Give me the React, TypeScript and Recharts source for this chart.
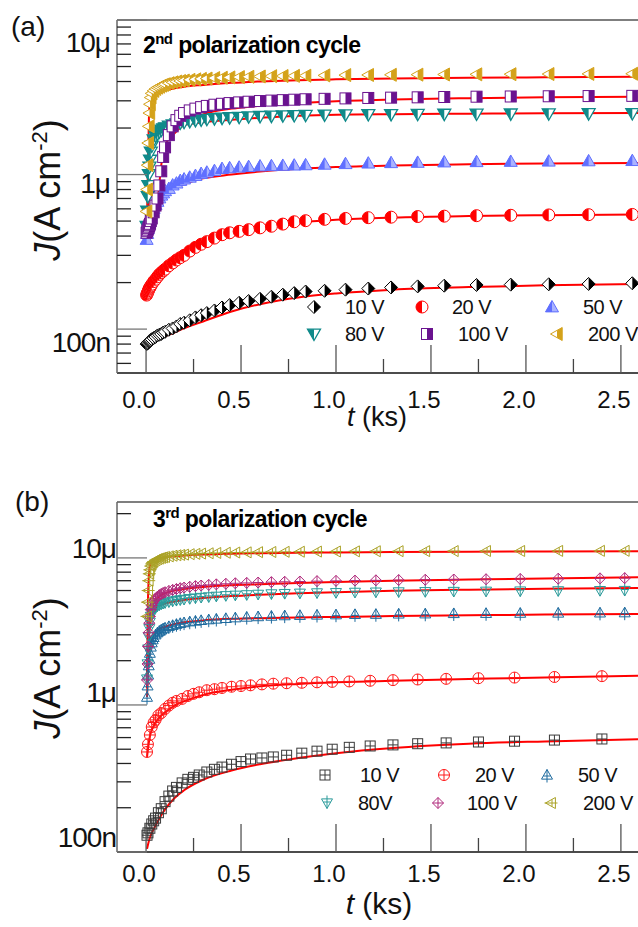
import React from 'react';
import { ComposedChart, Scatter, Line, XAxis, YAxis, ReferenceLine } from 'recharts';

const FONT = '"Liberation Sans", Arial, Helvetica, sans-serif';

// ---------- panel (a): 2nd polarization cycle, J in nA/cm2 ----------
const tA = [0.003, 0.006, 0.009, 0.012, 0.015, 0.018, 0.021, 0.025, 0.03, 0.04,
  0.05, 0.06, 0.07, 0.08, 0.09, 0.1, 0.12, 0.14, 0.16, 0.18,
  0.2, 0.23, 0.26, 0.29, 0.32, 0.36, 0.4, 0.44, 0.49, 0.54,
  0.6, 0.66, 0.72, 0.78, 0.84, 0.94, 1.05, 1.17, 1.29, 1.43,
  1.57, 1.74, 1.92, 2.12, 2.33, 2.56];

const a10 = [80, 80.5, 81, 82, 83, 83.5, 84, 85, 86, 87.5,
  89, 91, 92, 93, 95, 96, 99, 101, 104, 108,
  110, 114, 119, 123, 127, 132, 138, 143, 148, 152,
  157, 162, 167, 171, 175, 177, 180, 183, 186, 189,
  191, 193, 194, 195, 196, 198];
const a20 = [166, 170, 173, 177, 181, 184, 187, 190, 195, 203,
  210, 218, 226, 232, 238, 244, 257, 268, 280, 290,
  300, 320, 338, 354, 368, 388, 408, 420, 429, 440,
  452, 463, 478, 495, 503, 513, 520, 526, 530, 535,
  538, 542, 545, 548, 550, 552];
const a50 = [380, 415, 445, 465, 488, 505, 520, 545, 565, 603,
  640, 670, 705, 735, 760, 785, 812, 855, 880, 915,
  935, 960, 985, 1015, 1035, 1060, 1093, 1105, 1115, 1125,
  1135, 1140, 1145, 1150, 1155, 1165, 1175, 1185, 1192, 1198,
  1205, 1210, 1215, 1220, 1225, 1230];
const a80 = [462, 580, 720, 850, 1000, 1120, 1240, 1400, 1530, 1680,
  1770, 1830, 1890, 1940, 1980, 2010, 2060, 2100, 2130, 2160,
  2180, 2210, 2240, 2260, 2280, 2300, 2320, 2335, 2350, 2365,
  2380, 2390, 2400, 2410, 2420, 2430, 2440, 2445, 2450, 2455,
  2460, 2465, 2470, 2475, 2480, 2485];
const a100 = [420, 430, 440, 450, 460, 470, 480, 500, 520, 570,
  630, 700, 850, 1050, 1300, 1500, 1800, 2050, 2250, 2400,
  2500, 2600, 2670, 2730, 2780, 2830, 2870, 2900, 2930, 2960,
  2990, 3010, 3030, 3050, 3070, 3090, 3110, 3130, 3145, 3160,
  3175, 3190, 3200, 3210, 3220, 3230];
const a200 = [577, 800, 1150, 1600, 2050, 2500, 2850, 3150, 3350, 3480,
  3580, 3650, 3700, 3760, 3800, 3840, 3900, 3950, 4000, 4030,
  4060, 4100, 4130, 4160, 4180, 4210, 4230, 4250, 4270, 4290,
  4310, 4330, 4340, 4350, 4360, 4380, 4400, 4410, 4420, 4430,
  4440, 4450, 4460, 4470, 4480, 4490];

// fitted curves (red), both panels share the time grid
const tFit = [0.005, 0.01, 0.015, 0.02, 0.03, 0.04, 0.06, 0.08, 0.1, 0.15,
  0.2, 0.3, 0.45, 0.6, 0.8, 1.0, 1.3, 1.7, 2.1, 2.6];

const fa10 = [79, 80, 80.5, 81, 82, 83.5, 86, 88, 90, 95, 101, 112, 130, 145, 160, 170, 180, 187, 192, 196];
const fa20 = [166, 172, 177, 182, 190, 198, 212, 226, 240, 270, 300, 355, 420, 455, 490, 510, 527, 539, 546, 552];
const fa50 = [380, 425, 462, 497, 540, 575, 630, 690, 743, 815, 865, 945, 1000, 1045, 1090, 1120, 1145, 1165, 1180, 1190];
const fa80 = [470, 560, 720, 950, 1450, 1720, 1880, 1950, 1990, 2050, 2100, 2180, 2260, 2330, 2400, 2440, 2460, 2475, 2490, 2500];
const fa100 = [400, 405, 410, 415, 430, 460, 650, 1150, 1550, 1850, 2100, 2450, 2670, 2790, 2900, 2980, 3060, 3120, 3160, 3190];
const fa200 = [520, 1200, 2300, 2950, 3150, 3250, 3350, 3430, 3500, 3610, 3700, 3800, 3920, 4000, 4080, 4130, 4180, 4230, 4260, 4290];

// ---------- panel (b): 3rd polarization cycle ----------
const tB1 = [0.005, 0.01, 0.02, 0.03, 0.04, 0.05, 0.065, 0.08, 0.1, 0.12,
  0.14, 0.16, 0.19, 0.22, 0.25, 0.28, 0.32, 0.36, 0.4, 0.45,
  0.5, 0.55, 0.61, 0.67, 0.74, 0.82, 0.9, 0.98, 1.07, 1.18,
  1.3, 1.43, 1.58, 1.75, 1.94, 2.15, 2.4];
const b10 = [130, 135, 145, 155, 163, 170, 185, 197, 220, 240,
  260, 275, 295, 312, 322, 334, 350, 365, 378, 395,
  412, 429, 436, 443, 455, 470, 485, 500, 515, 526,
  535, 545, 552, 560, 567, 577, 587];
const b20 = [479, 540, 625, 708, 760, 791, 850, 882, 940, 990,
  1035, 1065, 1100, 1150, 1190, 1220, 1260, 1280, 1305, 1330,
  1345, 1360, 1380, 1395, 1405, 1415, 1425, 1435, 1445, 1460,
  1475, 1490, 1505, 1520, 1535, 1550, 1570];

const tB2 = [0.005, 0.008, 0.011, 0.014, 0.017, 0.02, 0.025, 0.03, 0.035, 0.04,
  0.05, 0.06, 0.07, 0.08, 0.09, 0.1, 0.12, 0.14, 0.16, 0.18,
  0.2, 0.23, 0.26, 0.29, 0.33, 0.37, 0.42, 0.47, 0.53, 0.59,
  0.66, 0.73, 0.81, 0.9, 1.0, 1.1, 1.21, 1.33, 1.47, 1.62,
  1.79, 1.97, 2.17, 2.39, 2.52];
const b50 = [1130, 1350, 1600, 1850, 2050, 2250, 2480, 2650, 2780, 2880,
  3000, 3100, 3180, 3240, 3300, 3340, 3420, 3480, 3540, 3590,
  3630, 3680, 3720, 3760, 3800, 3840, 3880, 3920, 3960, 3990,
  4020, 4050, 4070, 4090, 4110, 4130, 4140, 4160, 4170, 4190,
  4200, 4210, 4220, 4230, 4240];
const b80 = [1500, 1900, 2400, 2900, 3300, 3650, 4000, 4230, 4380, 4480,
  4600, 4700, 4780, 4850, 4900, 4950, 5020, 5080, 5130, 5180,
  5220, 5280, 5330, 5380, 5430, 5480, 5530, 5570, 5610, 5650,
  5690, 5720, 5750, 5780, 5800, 5830, 5850, 5870, 5890, 5910,
  5930, 5950, 5970, 5990, 6000];
const b100 = [1480, 1900, 2500, 3100, 3600, 4000, 4450, 4750, 4950, 5100,
  5300, 5450, 5580, 5680, 5770, 5840, 5960, 6060, 6140, 6220,
  6280, 6360, 6430, 6490, 6550, 6610, 6670, 6720, 6760, 6800,
  6840, 6880, 6910, 6950, 6980, 7010, 7040, 7070, 7100, 7130,
  7160, 7190, 7220, 7260, 7290];
const b200 = [4000, 5000, 6000, 7000, 7800, 8300, 8800, 9100, 9300, 9450,
  9650, 9800, 9900, 10000, 10080, 10150, 10250, 10350, 10420, 10480,
  10530, 10600, 10650, 10700, 10750, 10800, 10840, 10880, 10910, 10940,
  10970, 11000, 11020, 11040, 11060, 11080, 11100, 11110, 11120, 11130,
  11140, 11150, 11160, 11170, 11180];

const fb10 = [105, 112, 119, 125, 135, 143, 160, 178, 195, 233, 263, 310, 358, 395, 435, 470, 510, 545, 565, 585];
const fb20 = [443, 500, 560, 610, 676, 720, 790, 850, 890, 990, 1060, 1170, 1270, 1340, 1390, 1425, 1460, 1500, 1540, 1580];
const fb50 = [1130, 1600, 2050, 2400, 2800, 3000, 3220, 3330, 3400, 3550, 3650, 3760, 3850, 3890, 3930, 3970, 4020, 4070, 4120, 4160];
const fb80 = [1400, 2200, 2850, 3400, 4100, 4400, 4650, 4800, 4900, 5050, 5180, 5330, 5500, 5620, 5750, 5850, 5970, 6080, 6170, 6250];
const fb100 = [1300, 2300, 3100, 3800, 4600, 4950, 5350, 5600, 5750, 6000, 6150, 6350, 6520, 6620, 6750, 6850, 6980, 7120, 7250, 7400];
const fb200 = [1500, 5000, 7600, 8800, 9400, 9650, 9850, 10000, 10100, 10280, 10400, 10550, 10680, 10760, 10830, 10900, 10960, 11020, 11060, 11100];

const voltages = ['10 V', '20 V', '50 V', '80 V', '100 V', '200 V'];
const voltagesB = ['10 V', '20 V', '50 V', '80V', '100 V', '200 V'];

const xTicks = [0, 0.25, 0.5, 0.75, 1, 1.25, 1.5, 1.75, 2, 2.25, 2.5];
const X_DOMAIN: [number, number] = [-0.153, 2.59];

const minors = [2, 3, 4, 5, 6, 7, 8, 9];
const yTicksA = [6e-8, 7e-8, 8e-8, 9e-8, 1e-7, ...minors.map((m) => m * 1e-7), 1e-6, ...minors.map((m) => m * 1e-6), 1e-5];
const yTicksB = [1e-7, ...minors.map((m) => m * 1e-7), 1e-6, ...minors.map((m) => m * 1e-6), 1e-5, 2e-5];
const yLabels: Record<string, string> = { '-7': '100n', '-6': '1μ', '-5': '10μ' };
// label baseline offsets relative to the tick, as placed in the original figure
const yDyA: Record<string, number> = { '-7': 23, '-6': 18, '-5': 32 };
const yDyB: Record<string, number> = { '-7': -5, '-6': -3, '-5': 0 };

const rows = (ts: number[], js: number[]) => ts.map((t, i) => ({ t, j: js[i] * 1e-9 }));

// ---------- markers ----------
type Mk = (cx: number, cy: number) => React.ReactElement;

const halfDiamond = (c: string, R: number): Mk => (cx, cy) => (
  <g>
    <path d={`M${cx},${cy - R}L${cx + R},${cy}L${cx},${cy + R}L${cx - R},${cy}Z`} fill="#fff" stroke={c} strokeWidth={1} />
    <path d={`M${cx},${cy - R}L${cx + R},${cy}L${cx},${cy + R}Z`} fill={c} />
  </g>
);
const halfCircle = (c: string, r: number): Mk => (cx, cy) => (
  <g>
    <circle cx={cx} cy={cy} r={r} fill="#fff" stroke={c} strokeWidth={1} />
    <path d={`M${cx},${cy - r}A${r},${r} 0 0 0 ${cx},${cy + r}Z`} fill={c} />
  </g>
);
const halfTriUp = (c: string, light: string, R: number): Mk => (cx, cy) => (
  <g>
    <path d={`M${cx},${cy - R}L${cx + R},${cy + R * 0.75}L${cx - R},${cy + R * 0.75}Z`} fill={light} stroke={c} strokeWidth={1} />
    <path d={`M${cx},${cy - R}L${cx},${cy + R * 0.75}L${cx - R},${cy + R * 0.75}Z`} fill={c} />
  </g>
);
const halfTriDown = (c: string, R: number): Mk => (cx, cy) => (
  <g>
    <path d={`M${cx - R},${cy - R * 0.75}L${cx + R},${cy - R * 0.75}L${cx},${cy + R}Z`} fill="#fff" stroke={c} strokeWidth={1.3} />
    <path d={`M${cx - R},${cy - R * 0.75}L${cx},${cy - R * 0.75}L${cx},${cy + R}Z`} fill={c} />
  </g>
);
const halfSquare = (c: string, h: number): Mk => (cx, cy) => (
  <g>
    <rect x={cx - h} y={cy - h} width={2 * h} height={2 * h} fill="#fff" stroke={c} strokeWidth={1} />
    <rect x={cx} y={cy - h} width={h} height={2 * h} fill={c} />
  </g>
);
const halfTriLeft = (c: string, R: number): Mk => (cx, cy) => (
  <g>
    <path d={`M${cx - R},${cy}L${cx + R * 0.8},${cy - R}L${cx + R * 0.8},${cy + R}Z`} fill="#fff" stroke={c} strokeWidth={1} />
    <path d={`M${cx},${cy - R * 0.556}L${cx + R * 0.8},${cy - R}L${cx + R * 0.8},${cy + R}L${cx},${cy + R * 0.556}Z`} fill={c} />
  </g>
);

const R = 5.5;
const sqCross = (c: string): Mk => (cx, cy) => (
  <g fill="none" stroke={c} strokeWidth={1}>
    <rect x={cx - 5} y={cy - 5} width={10} height={10} />
    <path d={`M${cx - 5},${cy}H${cx + 5}M${cx},${cy - 5}V${cy + 5}`} />
  </g>
);
const circCross = (c: string): Mk => (cx, cy) => (
  <g fill="none" stroke={c} strokeWidth={1}>
    <circle cx={cx} cy={cy} r={5.5} />
    <path d={`M${cx - 5.5},${cy}H${cx + 5.5}M${cx},${cy - 5.5}V${cy + 5.5}`} />
  </g>
);
const triUpCross = (c: string): Mk => (cx, cy) => (
  <g fill="none" stroke={c} strokeWidth={1}>
    <path d={`M${cx},${cy - R}L${cx + R},${cy + R * 0.75}L${cx - R},${cy + R * 0.75}Z`} />
    <path d={`M${cx},${cy - R}V${cy + R + 2}M${cx - 3.5},${cy + 1}H${cx + 3.5}`} />
  </g>
);
const triDownCross = (c: string): Mk => (cx, cy) => (
  <g fill="none" stroke={c} strokeWidth={1}>
    <path d={`M${cx - R},${cy - R * 0.75}L${cx + R},${cy - R * 0.75}L${cx},${cy + R}Z`} />
    <path d={`M${cx},${cy - R - 2}V${cy + R}M${cx - 3.5},${cy - 1}H${cx + 3.5}`} />
  </g>
);
const diaCross = (c: string): Mk => (cx, cy) => (
  <g fill="none" stroke={c} strokeWidth={1}>
    <path d={`M${cx},${cy - R}L${cx + R},${cy}L${cx},${cy + R}L${cx - R},${cy}Z`} />
    <path d={`M${cx - R},${cy}H${cx + R}M${cx},${cy - R}V${cy + R}`} />
  </g>
);
const triLeftCross = (c: string): Mk => (cx, cy) => (
  <g fill="none" stroke={c} strokeWidth={1}>
    <path d={`M${cx - R},${cy}L${cx + R * 0.8},${cy - R}L${cx + R * 0.8},${cy + R}Z`} />
    <path d={`M${cx - R - 1},${cy}H${cx + R + 1}M${cx + 1},${cy - 3.5}V${cy + 3.5}`} />
  </g>
);

const markersA: Mk[] = [
  halfDiamond('#000000', 6.5),
  halfCircle('#ff0000', 6),
  halfTriUp('#5f6fff', '#aab3ff', 6.5),
  halfTriDown('#0f8a8a', 6.5),
  halfSquare('#6a128f', 5.5),
  halfTriLeft('#d4a21a', 6.5),
];
const markersB: Mk[] = [
  sqCross('#3a3a3a'),
  circCross('#ff1a1a'),
  triUpCross('#1d6a9e'),
  triDownCross('#2a9a9a'),
  diaCross('#b02a7c'),
  triLeftCross('#aaa226'),
];

const seriesA = [rows(tA, a10), rows(tA, a20), rows(tA, a50), rows(tA, a80), rows(tA, a100), rows(tA, a200)];
const fitsA = [fa10, fa20, fa50, fa80, fa100, fa200].map((f) => rows(tFit, f));
const seriesB = [rows(tB1, b10), rows(tB1, b20), rows(tB2, b50), rows(tB2, b80), rows(tB2, b100), rows(tB2, b200)];
const fitsB = [fb10, fb20, fb50, fb80, fb100, fb200].map((f) => rows(tFit, f));

// ---------- ticks ----------
const makeXTick = (axisY: number, labelDy: number) => (props: any) => {
  const { x, payload } = props;
  const v = payload.value as number;
  const major = Math.abs(v * 2 - Math.round(v * 2)) < 1e-6;
  return (
    <g>
      <line x1={x} x2={x} y1={axisY} y2={axisY - (major ? 28 : 14)} stroke={major ? '#555' : '#444'} strokeWidth={1.3} />
      {major && (
        <text x={x - 7} y={axisY + labelDy} textAnchor="middle" fontSize={24} fontFamily={FONT} fill="#111">
          {v.toFixed(1)}
        </text>
      )}
    </g>
  );
};

const makeYTick = (labelRight: number, dyMap: Record<string, number>) => (props: any) => {
  const { y, payload } = props;
  const v = payload.value as number;
  const lg = Math.log10(v);
  const decade = Math.abs(lg - Math.round(lg)) < 1e-6;
  const key = String(Math.round(lg));
  return (
    <g>
      <line x1={117} x2={117 + (decade ? 30 : 14)} y1={y} y2={y} stroke={decade ? '#777' : '#222'} strokeWidth={1.3} />
      {decade && yLabels[key] && (
        <text x={labelRight} y={y + dyMap[key]} textAnchor="end" fontSize={28} letterSpacing={-1} fontFamily={FONT} fill="#111">
          {yLabels[key]}
        </text>
      )}
    </g>
  );
};

type PanelProps = {
  height: number;
  top: number;
  xAxisH: number;
  yDomain: [number, number];
  yTicks: number[];
  labelRight: number;
  dyMap: Record<string, number>;
  xLabelDy: number;
  series: { t: number; j: number }[][];
  fits: { t: number; j: number }[][];
  markers: Mk[];
};

const Panel = ({ height, top, xAxisH, yDomain, yTicks, labelRight, dyMap, xLabelDy, series, fits, markers }: PanelProps) => (
  <ComposedChart width={638} height={height} margin={{ top, right: 0, bottom: 0, left: 0 }}>
    <XAxis
      type="number"
      dataKey="t"
      domain={X_DOMAIN}
      ticks={xTicks}
      interval={0}
      allowDataOverflow
      height={xAxisH}
      tickLine={false}
      axisLine={{ stroke: '#111', strokeWidth: 1.5 }}
      tick={makeXTick(height - xAxisH, xLabelDy)}
    />
    <YAxis
      type="number"
      dataKey="j"
      scale="log"
      domain={yDomain}
      ticks={yTicks}
      interval={0}
      allowDataOverflow
      width={117}
      tickLine={false}
      axisLine={{ stroke: '#666', strokeWidth: 1.5 }}
      tick={makeYTick(labelRight, dyMap)}
    />
    <ReferenceLine y={yDomain[1]} stroke="#555" strokeWidth={1.5} ifOverflow="visible" />
    {series.map((d, i) => (
      <Scatter
        key={`s${i}`}
        name={voltages[i]}
        data={d}
        dataKey="j"
        isAnimationActive={false}
        shape={(p: any) => markers[i](p.cx, p.cy)}
      />
    ))}
    {fits.map((d, i) => (
      <Line
        key={`f${i}`}
        data={d}
        dataKey="j"
        type="monotone"
        stroke="#ff0000"
        strokeWidth={2}
        dot={false}
        activeDot={false}
        isAnimationActive={false}
      />
    ))}
  </ComposedChart>
);

// legend layout: symbol x and text x per entry, two rows
const LegendRows = ({ markers, labels, sx, tx, rowY }: { markers: Mk[]; labels: string[]; sx: number[]; tx: number[]; rowY: number[] }) => (
  <g>
    {labels.map((lab, i) => {
      const r = Math.floor(i / 3);
      return (
        <g key={lab + i}>
          {markers[i](sx[i], rowY[r])}
          <text x={tx[i]} y={rowY[r] + 7} fontSize={20} letterSpacing={-0.5} fontFamily={FONT} fill="#111">
            {lab}
          </text>
        </g>
      );
    })}
  </g>
);

export default function App() {
  return (
    <div style={{ position: 'absolute', left: 0, top: 0, width: 638, height: 927, background: '#fff', overflow: 'hidden' }}>
      <div style={{ position: 'absolute', left: 0, top: 0 }}>
        <Panel
          height={440}
          top={20}
          xAxisH={67}
          yDomain={[5.2e-8, 1e-5]}
          yTicks={yTicksA}
          labelRight={110}
          dyMap={yDyA}
          xLabelDy={35}
          series={seriesA}
          fits={fitsA}
          markers={markersA}
        />
      </div>
      <div style={{ position: 'absolute', left: 0, top: 480 }}>
        <Panel
          height={447}
          top={22}
          xAxisH={75}
          yDomain={[1e-7, 2.4e-5]}
          yTicks={yTicksB}
          labelRight={116}
          dyMap={yDyB}
          xLabelDy={30}
          series={seriesB}
          fits={fitsB}
          markers={markersB}
        />
      </div>
      <svg width={638} height={927} style={{ position: 'absolute', left: 0, top: 0, pointerEvents: 'none' }} fontFamily={FONT}>
        {/* panel (a) annotations */}
        <text x={11} y={36} fontSize={28} fill="#111">(a)</text>
        <text x={143} y={53} fontSize={23} fontWeight="bold" letterSpacing={-0.6} fill="#000">
          2<tspan dy={-9} fontSize={15}>nd</tspan>
          <tspan dy={9}> polarization cycle</tspan>
        </text>
        <text transform="translate(60,190) rotate(-90)" textAnchor="middle" fontSize={36} fill="#111">
          <tspan fontStyle="italic">J</tspan>(A cm<tspan dy={-13} fontSize={22}>-2</tspan>
          <tspan dy={13}>)</tspan>
        </text>
        <text x={377} y={426} textAnchor="middle" fontSize={27} fill="#111">
          <tspan fontStyle="italic">t</tspan> (ks)
        </text>
        <LegendRows
          markers={markersA}
          labels={voltages}
          sx={[314, 422, 552, 314, 427, 557]}
          tx={[345, 452, 583, 345, 458, 588]}
          rowY={[307, 334]}
        />
        {/* panel (b) annotations */}
        <text x={15} y={511} fontSize={28} fill="#111">(b)</text>
        <text x={153} y={527} fontSize={23} fontWeight="bold" letterSpacing={-0.6} fill="#000">
          3<tspan dy={-9} fontSize={15}>rd</tspan>
          <tspan dy={9}> polarization cycle</tspan>
        </text>
        <text transform="translate(60,668) rotate(-90)" textAnchor="middle" fontSize={36} fill="#111">
          <tspan fontStyle="italic">J</tspan>(A cm<tspan dy={-13} fontSize={22}>-2</tspan>
          <tspan dy={13}>)</tspan>
        </text>
        <text x={379} y={914} textAnchor="middle" fontSize={30} fill="#111">
          <tspan fontStyle="italic">t</tspan> (ks)
        </text>
        <LegendRows
          markers={markersB}
          labels={voltagesB}
          sx={[325, 444, 547, 327, 438, 551]}
          tx={[360, 475, 578, 358, 467, 583]}
          rowY={[775, 803]}
        />
      </svg>
    </div>
  );
}
